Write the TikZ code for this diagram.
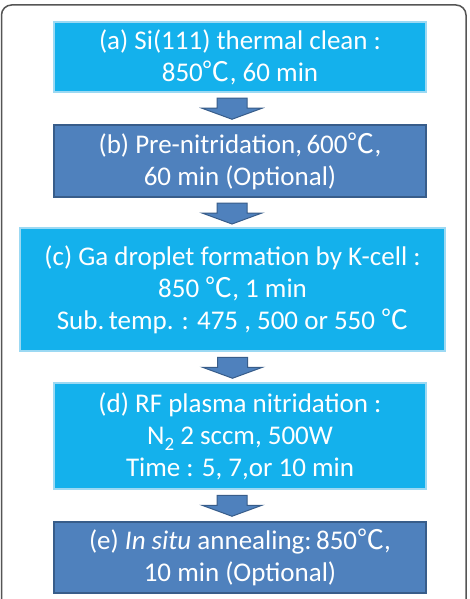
\documentclass[tikz,border=0pt]{standalone}
\usepackage{fontspec}
\setmainfont{Carlito}
\newfontfamily\cjkfont{Noto Sans CJK SC}
\newcommand{\degC}{{\cjkfont ℃}}
\newcommand{\subtwo}{\raisebox{-6pt}{\fontsize{19}{19}\selectfont 2}}
\definecolor{lightfill}{HTML}{14B1EC}
\definecolor{lightedge}{HTML}{9CD9F3}
\definecolor{darkfill}{HTML}{4F81BD}
\definecolor{darkedge}{HTML}{385D8A}
\definecolor{framegray}{HTML}{555555}
\begin{document}
\begin{tikzpicture}[x=1pt,y=-1pt,
  stepbox/.style={inner sep=0pt, align=center, text=white,
    font=\fontsize{27}{32}\selectfont},
  lightbox/.style={stepbox, fill=lightfill, draw=lightedge, line width=2.5pt},
  darkbox/.style={stepbox, fill=darkfill, draw=darkedge, line width=2pt},
  blockarrow/.style={fill=darkfill, draw=darkedge, line width=1pt, line join=miter}
]
\clip (0,0) rectangle (469,599);
\fill[white] (0,0) rectangle (469,599);
\draw[framegray, line width=1.5pt, rounded corners=10pt] (1.5,5) rectangle (466,640);

\node[lightbox, minimum width=372pt, minimum height=70pt] (a) at (240,57)
  {(a) Si(111) thermal clean :\\850\degC, 60 min};
\node[darkbox, minimum width=372pt, minimum height=72pt] (b) at (240,161)
  {(b) Pre-nitridation,\,600\degC,\\60 min (Optional)};
\node[lightbox, minimum width=425pt, minimum height=123pt] (c) at (232.5,289.5)
  {(c) Ga droplet formation by K-cell :\\850 \degC, 1 min\\Sub.\,temp. : 475 , 500 or 550 \degC};
\node[lightbox, minimum width=372pt, minimum height=106pt] (d) at (240,436)
  {(d) RF plasma nitridation :\\N\subtwo\ 2 sccm, 500W\\Time : 5, 7,or 10 min};
\node[darkbox, minimum width=372pt, minimum height=71pt] (e) at (240,557.5)
  {(e) \textit{In situ} annealing:\,850\degC,\\10 min (Optional)};

\path (a.south) ++(-8,5) coordinate (t1);
\path (b.south) ++(-8,5) coordinate (t2);
\path (c.south) ++(0,5) coordinate (t3);
\path (d.south) ++(-8,5) coordinate (t4);
\foreach \t in {t1,t2,t3,t4}{
  \draw[blockarrow, shift={(\t)}] (-15,0) -- (15,0) -- (15,10) -- (30,10) -- (0,21)
    -- (-30,10) -- (-15,10) -- cycle;
}
\end{tikzpicture}
\end{document}
